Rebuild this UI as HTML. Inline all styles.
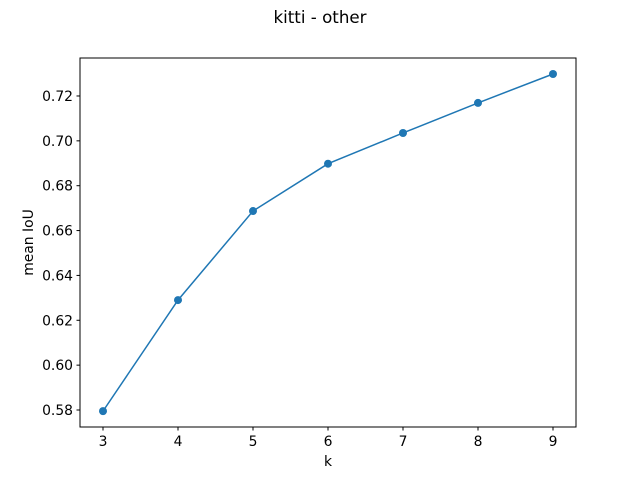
<!DOCTYPE html>
<html><head><meta charset="utf-8"><style>body{margin:0;background:#fff}svg{display:block;font-family:"DejaVu Sans","Liberation Sans",sans-serif}</style></head>
<body>
<svg id="c" width="640" height="480">
<rect x="0" y="0" width="640" height="480" fill="#fff"/>
<text x="320" y="23" font-size="16.7" text-anchor="middle">kitti - other</text>
<g id="axes"></g>
<rect x="80" y="58" width="496" height="369" fill="none" stroke="#000" stroke-width="1"/>
<text x="328" y="466" font-size="13.9" text-anchor="middle">k</text>
<text transform="translate(33,242.5) rotate(-90)" font-size="13.9" text-anchor="middle">mean IoU</text>
</svg>
<script>
const categories=[3,4,5,6,7,8,9];
const values=[0.5795,0.629,0.6687,0.6898,0.7035,0.7169,0.7298];
const yTicks=[0.58,0.60,0.62,0.64,0.66,0.68,0.70,0.72];
const xTicks=[3,4,5,6,7,8,9];
const NS="http://www.w3.org/2000/svg";
const g=document.getElementById('axes');
function x(v){return 103+(v-3)*75;}
function y(v){return 410-(v-0.58)*2243;}
function el(t,a){const e=document.createElementNS(NS,t);for(const k in a)e.setAttribute(k,a[k]);g.appendChild(e);return e;}
xTicks.forEach(t=>{
 const l=el('line',{x1:x(t),x2:x(t),y1:427,y2:430.5,stroke:'#000'});
 
 
 const tx=el('text',{x:x(t),y:446,'font-size':13.9,'text-anchor':'middle'});tx.textContent=t;
 
 
});
yTicks.forEach(t=>{
 const l=el('line',{x1:76.5,x2:80,y1:y(t),y2:y(t),stroke:'#000'});
 
 
 const tx=el('text',{x:73,y:y(t)+5,'font-size':13.9,'text-anchor':'end'});tx.textContent=t.toFixed(2);
 
 
});
const p=el('polyline',{points:categories.map((c,i)=>x(c)+','+y(values[i])).join(' '),fill:'none',stroke:'#1f77b4','stroke-width':1.5});


categories.forEach((c,i)=>{
 const m=el('circle',{cx:x(c),cy:y(values[i]),r:4,fill:'#1f77b4'});
 
 
});
</script>
</body></html>
